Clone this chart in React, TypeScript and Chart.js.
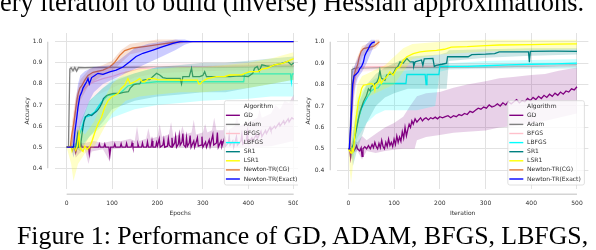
import React, { useEffect, useRef } from 'react';
import { Chart, registerables } from 'chart.js';
Chart.register(...registerables);

type Pts = [number, number][];

const ALGORITHMS = ['GD', 'Adam', 'BFGS', 'LBFGS', 'SR1', 'LSR1', 'Newton-TR(CG)', 'Newton-TR(Exact)'];
const COLORS = ['#800080', '#808080', '#ffc0cb', '#00ffff', '#008080', '#ffff00', '#e0783a', '#0000ff'];
const BAND_COLORS = [
  'rgba(128,0,128,0.18)', 'rgba(128,128,128,0.2)', 'rgba(255,192,203,0.25)', 'rgba(0,255,255,0.2)',
  'rgba(0,128,128,0.2)', 'rgba(255,255,0,0.22)', 'rgba(224,120,58,0.22)', 'rgba(0,0,255,0.2)',
];
const X_TICKS = [0, 100, 200, 300, 400, 500];
const Y_TICKS = [0.4, 0.5, 0.6, 0.7, 0.8, 0.9, 1.0];

// ---------------- Left panel: Epochs ----------------
const epGD: Pts = [[0,0.5],[18,0.5],[20,0.475],[23,0.5],[30,0.5],[32,0.515],[34,0.5],[48,0.5],[50,0.468],[52,0.5],[70,0.5],[72,0.515],[74,0.5],[82,0.5],[84,0.515],[86,0.5],[93,0.5],[95,0.46],[97,0.5],[104,0.5],[106,0.515],[108,0.5],[118,0.5],[120,0.516],[122,0.5],[130,0.5],[132,0.518],[134,0.5],[142,0.5],[144,0.52],[146,0.5],[155,0.5],[157,0.515],[159,0.5],[165,0.5],[167,0.52],[169,0.5],[176,0.5],[178,0.525],[180,0.5],[186,0.5],[188,0.53],[190,0.5],[196,0.5],[198,0.522],[200,0.505],[204,0.54],[206,0.5],[212,0.51],[214,0.535],[216,0.5],[222,0.505],[224,0.54],[226,0.51],[230,0.5],[232,0.545],[234,0.505],[238,0.52],[240,0.55],[242,0.5],[246,0.515],[248,0.555],[250,0.51],[254,0.525],[256,0.565],[258,0.51],[262,0.5],[264,0.545],[266,0.505],[270,0.52],[272,0.555],[274,0.5],[280,0.53],[282,0.5],[288,0.545],[290,0.505],[296,0.51],[298,0.55],[300,0.5],[306,0.525],[308,0.5],[314,0.535],[316,0.505],[322,0.56],[324,0.51],[330,0.52],[332,0.57],[334,0.5],[340,0.53],[342,0.505],[348,0.545],[350,0.505],[356,0.52],[358,0.555],[360,0.51],[366,0.53],[368,0.5],[374,0.55],[376,0.51],[384,0.53],[386,0.56],[388,0.515],[396,0.535],[398,0.57],[400,0.52],[408,0.545],[410,0.53],[418,0.56],[420,0.54],[428,0.575],[430,0.55],[438,0.58],[440,0.565],[448,0.595],[450,0.58],[458,0.6],[460,0.59],[468,0.615],[470,0.6],[478,0.625],[480,0.61],[488,0.635],[490,0.62],[496,0.64],[500,0.632]];
const epGDLo: Pts = [[0,0.5],[15,0.5],[20,0.45],[28,0.47],[40,0.49],[48,0.42],[55,0.48],[80,0.49],[93,0.44],[100,0.49],[150,0.5],[400,0.5],[450,0.505],[500,0.53]];
const epGDHi: Pts = [[0,0.5],[15,0.5],[20,0.52],[40,0.52],[60,0.53],[80,0.52],[100,0.53],[120,0.53],[140,0.54],[150,0.53],[155,0.6],[160,0.53],[175,0.54],[180,0.59],[185,0.54],[200,0.55],[205,0.61],[210,0.55],[225,0.56],[230,0.62],[235,0.55],[250,0.56],[255,0.6],[260,0.56],[275,0.57],[280,0.63],[285,0.56],[300,0.57],[305,0.61],[310,0.57],[320,0.58],[325,0.64],[330,0.58],[345,0.58],[350,0.62],[355,0.58],[370,0.6],[375,0.65],[380,0.6],[400,0.62],[420,0.64],[425,0.68],[430,0.64],[450,0.66],[460,0.7],[470,0.68],[480,0.72],[490,0.71],[500,0.75]];

const epAdam: Pts = [[0,0.5],[4,0.5],[7,0.87],[10,0.876],[14,0.862],[18,0.878],[22,0.86],[26,0.878],[40,0.877],[60,0.878],[100,0.878],[200,0.879],[300,0.88],[400,0.882],[500,0.885]];
const epAdamLo: Pts = [[0,0.5],[4,0.5],[7,0.85],[30,0.868],[100,0.872],[300,0.874],[500,0.876]];
const epAdamHi: Pts = [[0,0.5],[4,0.5],[7,0.885],[30,0.884],[100,0.884],[300,0.886],[500,0.895]];

const epBFGS: Pts = [[0,0.5],[10,0.5],[14,0.58],[18,0.66],[24,0.72],[32,0.76],[45,0.79],[60,0.81],[80,0.825],[100,0.835],[120,0.85],[140,0.86],[160,0.872],[200,0.878],[300,0.88],[400,0.883],[500,0.887]];
const epBFGSLo: Pts = [[0,0.5],[10,0.5],[20,0.55],[40,0.68],[60,0.74],[100,0.78],[150,0.83],[200,0.85],[300,0.86],[400,0.865],[500,0.87]];
const epBFGSHi: Pts = [[0,0.5],[10,0.5],[20,0.74],[40,0.83],[60,0.86],[100,0.88],[150,0.89],[200,0.895],[300,0.9],[400,0.9],[500,0.905]];

const epLBFGS: Pts = [[0,0.5],[22,0.5],[27,0.555],[33,0.587],[40,0.643],[45,0.645],[51,0.65],[62,0.667],[69,0.69],[77,0.714],[84,0.73],[91,0.746],[106,0.75],[117,0.755],[125,0.77],[135,0.79],[150,0.8],[198,0.81],[390,0.81],[392,0.847],[493,0.847],[495,0.81],[497,0.847],[500,0.847]];
const epLBFGSLo: Pts = [[0,0.5],[20,0.5],[30,0.5],[50,0.55],[80,0.6],[100,0.64],[150,0.68],[200,0.7],[250,0.71],[300,0.72],[400,0.73],[450,0.74],[500,0.74]];
const epLBFGSHi: Pts = [[0,0.5],[20,0.52],[30,0.6],[50,0.72],[80,0.78],[100,0.82],[150,0.85],[200,0.88],[300,0.88],[400,0.885],[500,0.89]];

const epSR1: Pts = [[0,0.5],[20,0.5],[24,0.56],[27,0.5],[30,0.5],[35,0.58],[38,0.62],[42,0.645],[48,0.655],[55,0.65],[60,0.66],[66,0.67],[70,0.68],[73,0.69],[78,0.71],[81,0.73],[88,0.745],[95,0.75],[103,0.755],[117,0.755],[125,0.76],[136,0.763],[140,0.78],[147,0.795],[155,0.8],[161,0.8],[165,0.815],[169,0.818],[175,0.82],[183,0.82],[190,0.835],[198,0.85],[205,0.842],[212,0.83],[220,0.826],[250,0.826],[253,0.8],[256,0.834],[270,0.834],[275,0.874],[278,0.834],[293,0.834],[300,0.84],[304,0.858],[308,0.834],[360,0.834],[380,0.838],[400,0.835],[410,0.85],[414,0.874],[420,0.882],[424,0.86],[430,0.89],[440,0.885],[450,0.882],[458,0.89],[470,0.895],[487,0.906],[495,0.89],[500,0.9]];
const epSR1Lo: Pts = [[0,0.5],[20,0.5],[30,0.48],[50,0.55],[80,0.62],[100,0.68],[150,0.72],[200,0.74],[250,0.75],[300,0.76],[350,0.76],[400,0.78],[450,0.8],[500,0.82]];
const epSR1Hi: Pts = [[0,0.5],[20,0.52],[30,0.62],[50,0.72],[80,0.78],[100,0.81],[150,0.85],[200,0.88],[250,0.89],[300,0.9],[350,0.9],[400,0.91],[450,0.92],[500,0.93]];

const epLSR1: Pts = [[0,0.5],[10,0.5],[12,0.48],[16,0.5],[20,0.485],[24,0.51],[27,0.58],[29,0.5],[32,0.49],[36,0.48],[40,0.505],[45,0.49],[50,0.5],[55,0.524],[62,0.57],[69,0.61],[77,0.643],[84,0.69],[91,0.72],[99,0.738],[106,0.746],[113,0.754],[120,0.778],[128,0.794],[135,0.825],[140,0.8],[150,0.81],[161,0.825],[167,0.81],[172,0.81],[180,0.825],[191,0.826],[200,0.82],[250,0.818],[288,0.818],[291,0.8],[295,0.8],[298,0.81],[310,0.825],[330,0.834],[348,0.835],[359,0.842],[385,0.843],[403,0.858],[421,0.858],[430,0.87],[440,0.874],[458,0.89],[476,0.897],[490,0.91],[500,0.92]];
const epLSR1Lo: Pts = [[0,0.5],[10,0.42],[15,0.34],[25,0.42],[40,0.47],[60,0.5],[80,0.58],[100,0.66],[130,0.72],[160,0.74],[200,0.75],[250,0.76],[300,0.76],[350,0.77],[400,0.78],[450,0.8],[500,0.82]];
const epLSR1Hi: Pts = [[0,0.5],[10,0.52],[15,0.55],[25,0.6],[40,0.56],[60,0.62],[80,0.72],[100,0.8],[130,0.86],[160,0.87],[200,0.87],[250,0.88],[300,0.88],[350,0.89],[400,0.9],[450,0.92],[500,0.95]];

const epCG: Pts = [[0,0.5],[8,0.5],[11,0.555],[14.6,0.6],[18,0.65],[22,0.715],[25.5,0.755],[29,0.78],[33,0.79],[40,0.818],[47,0.84],[58,0.855],[80,0.865],[95,0.88],[105,0.9],[117,0.935],[128,0.958],[146,0.97],[175,0.978],[204,0.987],[234,0.996],[258,1.0],[500,1.0]];
const epCGLo: Pts = [[0,0.5],[8,0.5],[12,0.5],[20,0.6],[30,0.72],[50,0.8],[80,0.84],[100,0.86],[120,0.9],[140,0.94],[170,0.955],[200,0.97],[240,0.985],[270,1.0],[500,1.0]];
const epCGHi: Pts = [[0,0.5],[8,0.5],[12,0.62],[20,0.74],[30,0.82],[50,0.87],[80,0.89],[100,0.91],[120,0.96],[140,0.99],[170,1.0],[200,1.01],[240,1.01],[270,1.0],[500,1.0]];

const epExact: Pts = [[0,0.5],[12,0.5],[15,0.5],[18,0.57],[22,0.635],[25,0.69],[29,0.74],[33,0.76],[36,0.78],[40,0.795],[44,0.81],[47,0.825],[50,0.8],[55,0.83],[62,0.84],[69,0.85],[80,0.845],[95,0.857],[109,0.865],[124,0.88],[139,0.905],[153,0.93],[168,0.945],[190,0.96],[212,0.976],[234,0.992],[250,1.0],[500,1.0]];
const epExactLo: Pts = [[0,0.5],[10,0.5],[15,0.45],[20,0.5],[25,0.55],[30,0.6],[40,0.66],[50,0.72],[60,0.76],[80,0.8],[100,0.82],[120,0.84],[150,0.87],[180,0.9],[210,0.93],[240,0.96],[260,0.985],[280,1.0],[500,1.0]];
const epExactHi: Pts = [[0,0.5],[10,0.5],[15,0.6],[20,0.72],[25,0.8],[30,0.84],[40,0.86],[50,0.87],[60,0.88],[80,0.885],[100,0.89],[120,0.92],[150,0.97],[180,0.99],[210,1.0],[240,1.01],[260,1.01],[280,1.0],[500,1.0]];

// ---------------- Right panel: Iteration ----------------
const itGD: Pts = [[0,0.5],[3,0.5],[5,0.46],[7,0.5],[10,0.5],[12,0.49],[15,0.5],[18,0.515],[20,0.5],[25,0.49],[28,0.505],[30,0.465],[32,0.5],[36,0.51],[40,0.5],[44,0.515],[48,0.5],[52,0.52],[55,0.505],[58,0.53],[61,0.51],[64,0.5],[67,0.525],[70,0.505],[73,0.54],[76,0.51],[79,0.5],[82,0.53],[85,0.51],[88,0.545],[91,0.515],[94,0.53],[97,0.51],[100,0.545],[103,0.52],[106,0.56],[109,0.53],[112,0.555],[115,0.535],[118,0.58],[121,0.55],[124,0.6],[127,0.56],[130,0.59],[133,0.615],[136,0.6],[139,0.63],[142,0.615],[146,0.64],[150,0.625],[154,0.635],[158,0.645],[162,0.63],[166,0.64],[170,0.645],[175,0.635],[180,0.645],[185,0.64],[190,0.648],[195,0.64],[200,0.65],[206,0.645],[212,0.65],[218,0.655],[224,0.645],[230,0.655],[236,0.65],[242,0.66],[248,0.655],[254,0.665],[260,0.66],[266,0.675],[272,0.67],[278,0.68],[284,0.69],[290,0.685],[296,0.695],[302,0.69],[308,0.705],[314,0.695],[320,0.7],[326,0.71],[332,0.7],[338,0.715],[344,0.705],[350,0.72],[356,0.71],[362,0.72],[368,0.73],[374,0.715],[380,0.725],[386,0.72],[392,0.735],[398,0.725],[404,0.74],[410,0.73],[416,0.745],[422,0.735],[428,0.75],[434,0.74],[440,0.755],[446,0.745],[452,0.76],[458,0.75],[464,0.765],[470,0.755],[476,0.77],[482,0.765],[488,0.78],[494,0.775],[500,0.79]];
const itGDLo: Pts = [[0,0.5],[5,0.44],[10,0.48],[20,0.49],[30,0.45],[40,0.49],[60,0.48],[80,0.49],[100,0.495],[120,0.5],[145,0.5],[150,0.54],[170,0.555],[200,0.565],[230,0.575],[260,0.58],[300,0.585],[330,0.6],[360,0.605],[400,0.62],[430,0.63],[460,0.645],[500,0.665]];
const itGDHi: Pts = [[0,0.5],[5,0.52],[10,0.54],[20,0.53],[30,0.56],[40,0.54],[60,0.57],[80,0.6],[100,0.62],[120,0.65],[135,0.7],[150,0.745],[170,0.76],[200,0.765],[230,0.785],[260,0.8],[300,0.815],[330,0.83],[360,0.835],[400,0.845],[430,0.85],[460,0.865],[500,0.88]];

const itAdam: Pts = [[0,0.5],[3,0.5],[8,0.87],[12,0.875],[20,0.878],[100,0.88],[200,0.882],[300,0.883],[400,0.886],[500,0.892]];
const itAdamLo: Pts = [[0,0.5],[3,0.5],[8,0.85],[20,0.87],[200,0.875],[500,0.882]];
const itAdamHi: Pts = [[0,0.5],[3,0.5],[8,0.885],[20,0.886],[200,0.889],[500,0.9]];

const itBFGS: Pts = [[0,0.5],[4,0.5],[8,0.7],[12,0.8],[18,0.86],[25,0.882],[100,0.885],[200,0.885],[300,0.886],[400,0.888],[500,0.89]];
const itBFGSLo: Pts = [[0,0.5],[4,0.5],[8,0.6],[15,0.78],[25,0.86],[100,0.87],[300,0.872],[500,0.875]];
const itBFGSHi: Pts = [[0,0.5],[4,0.5],[8,0.8],[15,0.88],[25,0.9],[100,0.9],[300,0.9],[500,0.905]];

const itLBFGS: Pts = [[0,0.5],[10,0.5],[14,0.56],[22,0.64],[29,0.69],[36,0.72],[44,0.75],[50,0.77],[58,0.782],[65,0.785],[70,0.8],[76,0.805],[126,0.805],[128,0.847],[168,0.847],[170,0.8],[172,0.847],[198,0.847],[200,0.885],[260,0.885],[300,0.888],[350,0.892],[400,0.895],[450,0.897],[500,0.9]];
const itLBFGSLo: Pts = [[0,0.5],[5,0.5],[10,0.45],[20,0.55],[40,0.62],[60,0.66],[80,0.68],[100,0.68],[150,0.68],[190,0.7],[200,0.86],[220,0.87],[300,0.875],[400,0.875],[500,0.875]];
const itLBFGSHi: Pts = [[0,0.5],[5,0.5],[10,0.56],[20,0.74],[40,0.8],[60,0.83],[80,0.85],[100,0.86],[150,0.87],[190,0.88],[200,0.9],[220,0.9],[300,0.91],[400,0.915],[500,0.92]];

const itSR1: Pts = [[0,0.5],[6,0.5],[11,0.52],[18,0.595],[22,0.64],[25.5,0.673],[33,0.72],[40,0.75],[44,0.78],[48,0.77],[50,0.79],[55,0.797],[58,0.805],[62,0.81],[66,0.83],[69,0.867],[72,0.83],[80,0.82],[84,0.845],[98,0.852],[104,0.875],[108,0.883],[113,0.906],[120,0.9],[128,0.922],[135,0.906],[142,0.906],[143,0.885],[146,0.906],[160,0.915],[163,0.89],[166,0.92],[185,0.922],[188,0.885],[192,0.89],[205,0.895],[215,0.9],[217,0.93],[262,0.93],[270,0.94],[300,0.942],[320,0.945],[330,0.953],[394,0.953],[396,0.905],[398,0.955],[450,0.956],[500,0.955]];
const itSR1Lo: Pts = [[0,0.5],[5,0.5],[10,0.42],[20,0.5],[40,0.62],[60,0.7],[80,0.74],[100,0.76],[130,0.78],[160,0.78],[200,0.78],[215,0.78],[220,0.91],[300,0.925],[400,0.935],[500,0.94]];
const itSR1Hi: Pts = [[0,0.5],[5,0.5],[10,0.58],[20,0.7],[40,0.8],[60,0.85],[80,0.88],[100,0.9],[130,0.93],[160,0.935],[200,0.94],[215,0.95],[220,0.96],[300,0.965],[400,0.97],[500,0.97]];

const itLSR1: Pts = [[0,0.5],[3,0.49],[6,0.48],[8,0.5],[11,0.49],[14,0.56],[18,0.657],[22,0.72],[25.5,0.75],[29,0.782],[33,0.797],[40,0.8],[50,0.805],[55,0.8],[58,0.774],[60,0.8],[66,0.81],[69,0.83],[72,0.805],[76,0.82],[84,0.836],[91,0.86],[98,0.844],[106,0.875],[113,0.883],[120,0.914],[128,0.93],[142,0.945],[157,0.953],[171,0.956],[193,0.96],[210,0.965],[225,0.975],[260,0.977],[300,0.982],[330,0.985],[400,0.987],[450,0.989],[500,0.99]];
const itLSR1Lo: Pts = [[0,0.5],[3,0.4],[6,0.34],[10,0.42],[15,0.5],[20,0.58],[30,0.7],[40,0.74],[60,0.76],[80,0.78],[100,0.8],[120,0.86],[140,0.92],[200,0.94],[300,0.955],[400,0.96],[500,0.965]];
const itLSR1Hi: Pts = [[0,0.5],[3,0.56],[6,0.58],[10,0.62],[15,0.72],[20,0.8],[30,0.84],[40,0.85],[60,0.87],[80,0.89],[100,0.93],[120,0.97],[140,0.99],[200,1.0],[300,1.01],[400,1.01],[500,1.01]];

const itCG: Pts = [[0,0.5],[3,0.5],[6,0.62],[9,0.78],[12,0.84],[16,0.87],[20,0.89],[24,0.93],[28,0.955],[33,0.968],[40,0.972],[48,0.975],[56,0.98],[62,0.99],[68,1.0]];
const itCGLo: Pts = [[0,0.5],[3,0.5],[6,0.55],[10,0.72],[15,0.82],[20,0.86],[30,0.93],[40,0.95],[50,0.96],[60,0.97],[68,0.99]];
const itCGHi: Pts = [[0,0.5],[3,0.5],[6,0.7],[10,0.84],[15,0.9],[20,0.93],[30,0.98],[40,0.99],[50,1.0],[60,1.01],[68,1.01]];

const itExact: Pts = [[0,0.5],[2,0.5],[5,0.6],[7,0.68],[9.5,0.8],[12.5,0.84],[15,0.845],[18,0.85],[22,0.86],[25,0.875],[29,0.885],[33,0.905],[36,0.935],[40,0.953],[44,0.968],[48,0.985],[52,0.995],[58,1.0]];
const itExactLo: Pts = [[0,0.5],[2,0.5],[5,0.5],[8,0.6],[12,0.74],[16,0.8],[20,0.83],[30,0.86],[40,0.9],[50,0.95],[58,0.99]];
const itExactHi: Pts = [[0,0.5],[2,0.5],[5,0.72],[8,0.86],[12,0.88],[16,0.9],[20,0.92],[30,0.96],[40,0.99],[50,1.01],[58,1.01]];

type Series = { mean: Pts; lo: Pts; hi: Pts };
const EPOCH_SERIES: Series[] = [
  { mean: epGD, lo: epGDLo, hi: epGDHi },
  { mean: epAdam, lo: epAdamLo, hi: epAdamHi },
  { mean: epBFGS, lo: epBFGSLo, hi: epBFGSHi },
  { mean: epLBFGS, lo: epLBFGSLo, hi: epLBFGSHi },
  { mean: epSR1, lo: epSR1Lo, hi: epSR1Hi },
  { mean: epLSR1, lo: epLSR1Lo, hi: epLSR1Hi },
  { mean: epCG, lo: epCGLo, hi: epCGHi },
  { mean: epExact, lo: epExactLo, hi: epExactHi },
];
const ITER_SERIES: Series[] = [
  { mean: itGD, lo: itGDLo, hi: itGDHi },
  { mean: itAdam, lo: itAdamLo, hi: itAdamHi },
  { mean: itBFGS, lo: itBFGSLo, hi: itBFGSHi },
  { mean: itLBFGS, lo: itLBFGSLo, hi: itLBFGSHi },
  { mean: itSR1, lo: itSR1Lo, hi: itSR1Hi },
  { mean: itLSR1, lo: itLSR1Lo, hi: itLSR1Hi },
  { mean: itCG, lo: itCGLo, hi: itCGHi },
  { mean: itExact, lo: itExactLo, hi: itExactHi },
];

const FONT_FAMILY = '"DejaVu Sans", sans-serif';
const TEXT_COLOR = '#2e2e2e';
const GRID_COLOR = '#e2e2e2';
const SPINE_COLOR = '#d4d4d4';

const toXY = (p: Pts) => p.map(([x, y]) => ({ x, y }));

function buildDatasets(series: Series[]) {
  const ds: any[] = [];
  series.forEach((s, i) => {
    const base = (series.length - i) * 10;
    const common = { pointRadius: 0, tension: 0 };
    ds.push({ ...common, data: toXY(s.lo), borderWidth: 0, borderColor: 'rgba(0,0,0,0)', fill: false, order: base + 2 });
    ds.push({ ...common, data: toXY(s.hi), borderWidth: 0, borderColor: 'rgba(0,0,0,0)', fill: '-1', backgroundColor: BAND_COLORS[i], order: base + 1 });
    ds.push({ ...common, data: toXY(s.mean), borderWidth: 1.3, borderColor: COLORS[i], fill: false, order: base });
  });
  return ds;
}

type Layout = {
  width: number; yWidth: number; padRight: number; yMin: number; yMax: number;
  yTickPad: number; yTitlePad: number; spineX: number; xTitle: string;
};

function makePlugins(L: Layout) {
  const spines = {
    id: 'spines',
    afterDraw(chart: any) {
      const { ctx, chartArea, scales } = chart;
      const x = scales.x, y = scales.y;
      ctx.save();
      ctx.strokeStyle = SPINE_COLOR;
      ctx.lineWidth = 1.4;
      const sx = chartArea.left - L.spineX;
      ctx.beginPath();
      ctx.moveTo(sx, y.getPixelForValue(Y_TICKS[Y_TICKS.length - 1]));
      ctx.lineTo(sx, y.getPixelForValue(Y_TICKS[0]));
      ctx.stroke();
      const sy = chartArea.bottom + 5.7;
      ctx.beginPath();
      ctx.moveTo(x.getPixelForValue(X_TICKS[0]), sy);
      ctx.lineTo(x.getPixelForValue(X_TICKS[X_TICKS.length - 1]), sy);
      ctx.stroke();
      ctx.restore();
    },
  };
  const legend = {
    id: 'algoLegend',
    afterDatasetsDraw(chart: any) {
      const { ctx, chartArea } = chart;
      const w = 76.6, h = 84.3;
      const x0 = chartArea.right - 4 - w;
      const y0 = chartArea.bottom - 3.6 - h;
      ctx.save();
      ctx.beginPath();
      ctx.roundRect(x0, y0, w, h, 2);
      ctx.fillStyle = 'rgba(255,255,255,0.8)';
      ctx.fill();
      ctx.strokeStyle = '#d8d8d8';
      ctx.lineWidth = 0.8;
      ctx.stroke();
      ctx.font = `6px ${FONT_FAMILY}`;
      ctx.textBaseline = 'middle';
      ctx.textAlign = 'left';
      ctx.fillStyle = TEXT_COLOR;
      ctx.fillText('Algorithm', x0 + 19.3, y0 + 5.5);
      ALGORITHMS.forEach((name, i) => {
        const yy = y0 + 5.5 + (i + 1) * 9.1;
        ctx.strokeStyle = COLORS[i];
        ctx.lineWidth = 1.4;
        ctx.beginPath();
        ctx.moveTo(x0 + 1.5, yy);
        ctx.lineTo(x0 + 15.5, yy);
        ctx.stroke();
        ctx.fillStyle = TEXT_COLOR;
        ctx.fillText(name, x0 + 19.3, yy);
      });
      ctx.restore();
    },
  };
  return [spines, legend];
}

function makeConfig(series: Series[], L: Layout): any {
  const font = { family: FONT_FAMILY, size: 6 };
  return {
    type: 'line',
    data: { datasets: buildDatasets(series) },
    plugins: makePlugins(L),
    options: {
      responsive: false,
      animation: false,
      events: [],
      layout: { padding: { top: 33, left: 0, right: L.padRight, bottom: 0 } },
      plugins: { legend: { display: false }, tooltip: { enabled: false } },
      scales: {
        x: {
          type: 'linear', min: -25, max: 525,
          afterBuildTicks: (s: any) => { s.ticks = X_TICKS.map((v) => ({ value: v })); },
          afterFit: (s: any) => { s.height = 61.4; },
          grid: { color: GRID_COLOR, lineWidth: 1, drawTicks: false },
          border: { display: false },
          ticks: { font, color: TEXT_COLOR, padding: 11, maxRotation: 0, autoSkip: false, callback: (v: number) => String(v) },
          title: { display: true, text: L.xTitle, font, color: TEXT_COLOR, padding: { top: 0, bottom: 33.4 } },
        },
        y: {
          type: 'linear', min: L.yMin, max: L.yMax,
          afterBuildTicks: (s: any) => { s.ticks = Y_TICKS.map((v) => ({ value: v })); },
          afterFit: (s: any) => { s.width = L.yWidth; },
          grid: { color: GRID_COLOR, lineWidth: 1, drawTicks: false },
          border: { display: false },
          ticks: { font, color: TEXT_COLOR, padding: L.yTickPad, autoSkip: false, callback: (v: number) => v.toFixed(1) },
          title: { display: true, text: 'Accuracy', font, color: TEXT_COLOR, padding: { top: L.yTitlePad, bottom: 0 } },
        },
      },
    },
  };
}

const LEFT: Layout = { width: 312, yWidth: 55.3, padRight: 7, yMin: 0.304, yMax: 1.041, yTickPad: 13, yTitlePad: 23.4, spineX: 7.6, xTitle: 'Epochs' };
const RIGHT: Layout = { width: 298, yWidth: 38.9, padRight: 7.6, yMin: 0.314, yMax: 1.041, yTickPad: 12.6, yTitlePad: 6.4, spineX: 6.6, xTitle: 'Iteration' };

function Panel({ series, layout }: { series: Series[]; layout: Layout }) {
  const ref = useRef<HTMLCanvasElement>(null);
  useEffect(() => {
    const chart = new Chart(ref.current as HTMLCanvasElement, makeConfig(series, layout));
    return () => chart.destroy();
  }, []);
  return <canvas ref={ref} width={layout.width} height={250} style={{ display: 'block', width: layout.width, height: 250 }} />;
}

export default function App() {
  const serif = '"Liberation Serif", "Times New Roman", serif';
  return (
    <div style={{ position: 'fixed', left: 0, top: 0, width: 596, height: 250, background: '#fff', overflow: 'hidden' }}>
      <div style={{ position: 'absolute', left: 0, top: 0, width: 298, height: 250, overflow: 'hidden' }}>
        <Panel series={EPOCH_SERIES} layout={LEFT} />
      </div>
      <div style={{ position: 'absolute', left: 298, top: 0, width: 298, height: 250, background: '#fff' }}>
        <Panel series={ITER_SERIES} layout={RIGHT} />
      </div>
      <div style={{ position: 'absolute', left: 0, top: -11.1, font: `26.4px ${serif}`, lineHeight: '26.4px', whiteSpace: 'nowrap', color: '#000' }}>
        ery iteration to build (inverse) Hessian approximations.
      </div>
      <div style={{ position: 'absolute', left: 17, top: 223.4, font: `25.8px ${serif}`, lineHeight: '25.8px', whiteSpace: 'nowrap', color: '#000' }}>
        Figure 1: Performance of GD, ADAM, BFGS, LBFGS,
      </div>
    </div>
  );
}
